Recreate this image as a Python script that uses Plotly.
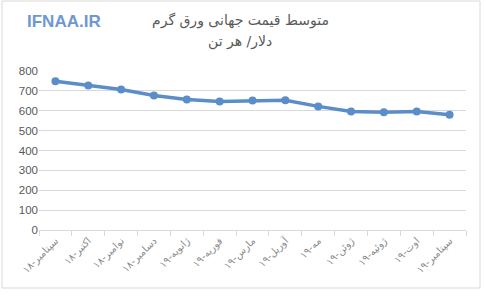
import plotly.graph_objects as go

months = ["سپتامبر-۱۸", "اکتبر-۱۸", "نوامبر-۱۸", "دسامبر-۱۸", "ژانویه-۱۹", "فوریه-۱۹",
          "مارس-۱۹", "آوریل-۱۹", "مه-۱۹", "ژوئن-۱۹", "ژوئیه-۱۹", "اوت-۱۹", "سپتامبر-۱۹"]
prices = [748, 727, 707, 677, 657, 647, 652, 653, 622, 596, 592, 596, 580]
y_ticks = [0, 100, 200, 300, 400, 500, 600, 700, 800]

W, H = 486, 296
L, R, T, B = 39, 20, 71, 66
pw, ph = W - L - R, H - T - B

def px(x):
    return (x - L) / pw

def py(y):
    return (H - B - y) / ph

fig = go.Figure()
fig.add_trace(go.Scatter(
    x=months, y=prices, mode="lines+markers",
    line=dict(color="#5b8ec8", width=3.5),
    marker=dict(color="#5b8ec8", size=8),
    showlegend=False, hoverinfo="skip"))

fig.update_layout(
    width=W, height=H,
    margin=dict(l=L, r=R, t=T, b=B),
    paper_bgcolor="white", plot_bgcolor="white",
    font=dict(family="DejaVu Sans, Liberation Sans, sans-serif", color="#595959"),
    xaxis=dict(type="category", tickangle=-45, tickfont=dict(size=10, color="#8a8a8a"),
               showgrid=False, showline=True, linecolor="#d9d9d9", linewidth=1,
               ticks="outside", tickson="boundaries", ticklen=5, tickcolor="#d9d9d9",
               range=[-0.5, len(months) - 0.5], fixedrange=True),
    yaxis=dict(range=[0, 800], tickvals=y_ticks, ticktext=[str(v) for v in y_ticks],
               showgrid=True, gridcolor="#d9d9d9", gridwidth=1, zeroline=False,
               showline=False, tickfont=dict(size=11.5, color="#595959",
               family="Liberation Sans, Arial, sans-serif"), ticks="", fixedrange=True),
    shapes=[dict(type="rect", xref="paper", yref="paper",
                 x0=px(2), x1=px(480), y0=py(288), y1=py(1),
                 line=dict(color="#d9d9d9", width=1), fillcolor="rgba(0,0,0,0)",
                 layer="below")],
    annotations=[
        dict(text="متوسط قیمت جهانی ورق گرم", xref="paper", yref="paper",
             x=px(240), y=py(20), xanchor="center", yanchor="middle", showarrow=False,
             font=dict(size=14, color="#595959", family="DejaVu Sans, sans-serif")),
        dict(text="دلار/ هر تن", xref="paper", yref="paper",
             x=px(240), y=py(41), xanchor="center", yanchor="middle", showarrow=False,
             font=dict(size=14, color="#595959", family="DejaVu Sans, sans-serif")),
        dict(text="<b>IFNAA.IR</b>", xref="paper", yref="paper",
             x=px(64), y=py(21), xanchor="center", yanchor="middle", showarrow=False,
             font=dict(size=17, color="#6f98d2", family="Liberation Sans, Arial, sans-serif")),
    ],
)

fig.write_html("out.html")
